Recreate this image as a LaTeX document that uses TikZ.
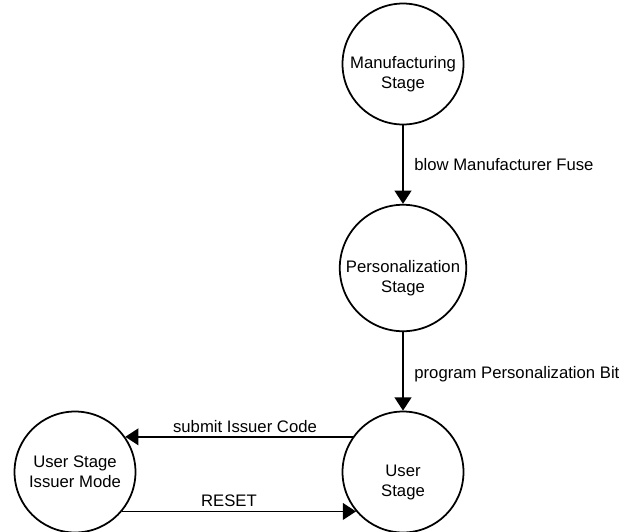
\documentclass[tikz,border=0pt]{standalone}
\usepackage{fontspec}
\setmainfont{Liberation Sans}
\usetikzlibrary{arrows.meta,positioning}
\tikzset{
  stage/.style={circle,draw,line width=1pt,minimum size=2.42cm,inner sep=0pt,align=center},
  low/.style={text height=29.5pt},
  trans/.style={-{Triangle[length=7.5pt,width=9.5pt]},line width=1pt},
  tlab/.style={inner sep=2pt},
}

\begin{document}
\begin{tikzpicture}[x=0.02cm,y=-0.02cm,font=\fontsize{9.5}{11.4}\selectfont]
  \useasboundingbox (0,0) rectangle (621,531);
  % --- holatlar ---
  \node[stage,low] (mfg)  at (403,64)  {Manufacturing\\Stage};
  \node[stage,low] (pers) at (403,268) {Personalization\\Stage};
  \node[stage,low] (user) at (403,472) {User\\Stage};
  \node[stage]     (iss)  at (75,472)  {User Stage\\Issuer Mode};
  % --- o'tishlar ---
  \draw[trans] (mfg) -- node[tlab,right=0.14cm]{blow Manufacturer Fuse} (pers);
  \draw[trans] (pers) -- node[tlab,right=0.14cm,yshift=-0.06cm]{program Personalization Bit} (user);
  \draw[trans] (user.145) -- node[tlab,above,xshift=0.12cm]{submit Issuer Code} (iss.35);
  \draw[trans] (iss.-40) -- node[tlab,above,xshift=-0.2cm]{RESET} (user.220);
\end{tikzpicture}
\end{document}
